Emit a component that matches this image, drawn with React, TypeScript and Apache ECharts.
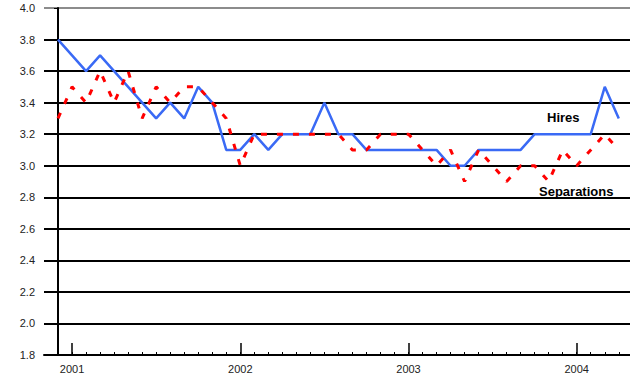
import React, { useEffect, useRef } from "react";
import * as echarts from "echarts";

// Monthly rates, Dec 2000 (index 0) through Apr 2004 (index 40)
const hires: number[] = [
  3.8, 3.7, 3.6, 3.7, 3.6, 3.5, 3.4, 3.3, 3.4, 3.3, 3.5, 3.4, 3.1,
  3.1, 3.2, 3.1, 3.2, 3.2, 3.2, 3.4, 3.2, 3.2, 3.1, 3.1, 3.1,
  3.1, 3.1, 3.1, 3.0, 3.0, 3.1, 3.1, 3.1, 3.1, 3.2, 3.2, 3.2,
  3.2, 3.2, 3.5, 3.3,
];
const separations: number[] = [
  3.3, 3.5, 3.4, 3.6, 3.4, 3.6, 3.3, 3.5, 3.4, 3.5, 3.5, 3.4, 3.3,
  3.0, 3.2, 3.2, 3.2, 3.2, 3.2, 3.2, 3.2, 3.1, 3.1, 3.2, 3.2,
  3.2, 3.1, 3.0, 3.1, 2.9, 3.1, 3.0, 2.9, 3.0, 3.0, 2.9, 3.1,
  3.0, 3.1, 3.2, 3.1,
];
const yearLabels: string[] = ["2001", "2002", "2003", "2004"];
const januaryIndex: number[] = [1, 13, 25, 37];
const yTicks = { min: 1.8, max: 4.0, interval: 0.2 };

const FONT = "'Liberation Sans', Arial, sans-serif";

export default function App() {
  const ref = useRef<HTMLDivElement>(null);
  useEffect(() => {
    if (!ref.current) return;
    const chart = echarts.init(ref.current, null, { renderer: "svg" });
    const monthTicks = hires.map((_, i) => i);
    const splitColors = Array.from({ length: 12 }, (_, i) => (i === 11 ? "#8c8c8c" : "#000"));
    chart.setOption({
      animation: false,
      grid: { left: 44, right: 0, top: 8, bottom: 22 },
      xAxis: [
        {
          type: "value",
          min: -1,
          max: 40.8,
          axisLine: { show: true, lineStyle: { color: "#000", width: 2 } },
          axisTick: {
            show: true,
            inside: true,
            length: 3,
            customValues: monthTicks,
            lineStyle: { color: "#000", width: 1 },
          },
          axisLabel: { show: false },
          splitLine: { show: false },
        },
        {
          type: "value",
          min: -1,
          max: 40.8,
          position: "bottom",
          axisLine: { show: false },
          axisTick: {
            show: true,
            inside: true,
            length: 12,
            customValues: januaryIndex,
            lineStyle: { color: "#000", width: 1.5 },
          },
          axisLabel: {
            show: true,
            customValues: januaryIndex,
            margin: 8,
            color: "#222",
            fontFamily: FONT,
            fontSize: 11,
            formatter: (v: number) => yearLabels[januaryIndex.indexOf(Math.round(v))] ?? "",
          },
          splitLine: { show: false },
        },
      ],
      yAxis: {
        type: "value",
        min: yTicks.min,
        max: yTicks.max,
        interval: yTicks.interval,
        axisLine: { show: true, lineStyle: { color: "#000", width: 2 } },
        axisTick: { show: true, length: 4, lineStyle: { color: "#000", width: 1 } },
        axisLabel: {
          margin: 9,
          color: "#222",
          fontFamily: FONT,
          fontSize: 11,
          formatter: (v: number) => v.toFixed(1),
        },
        splitLine: { show: true, lineStyle: { color: splitColors, width: 2 } },
      },
      series: [
        {
          name: "Hires",
          type: "line",
          xAxisIndex: 0,
          data: hires.map((v, i) => [i, v]),
          showSymbol: false,
          lineStyle: { color: "#3a6af5", width: 2.5 },
          z: 3,
        },
        {
          name: "Separations",
          type: "line",
          xAxisIndex: 0,
          data: separations.map((v, i) => [i, v]),
          showSymbol: false,
          lineStyle: { color: "#ff0000", width: 3, type: [6, 10] },
          z: 4,
        },
      ],
      graphic: [
        {
          type: "text",
          left: 547,
          top: 111,
          style: { text: "Hires", font: `bold 13px ${FONT}`, fill: "#000" },
        },
        {
          type: "text",
          left: 539,
          top: 185,
          style: { text: "Separations", font: `bold 13px ${FONT}`, fill: "#000" },
        },
      ],
    });
    return () => chart.dispose();
  }, []);
  return (
    <div
      ref={ref}
      style={{ position: "fixed", left: 0, top: 0, width: 630, height: 377, background: "#fff" }}
    />
  );
}
